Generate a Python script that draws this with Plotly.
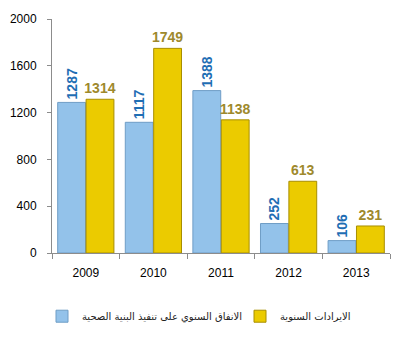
import plotly.graph_objects as go

years = ["2009", "2010", "2011", "2012", "2013"]
spending = [1287, 1117, 1388, 252, 106]
revenue = [1314, 1749, 1138, 613, 231]
spending_name = "الانفاق السنوي على تنفيذ البنية الصحية"
revenue_name = "الايرادات السنوية"
y_ticks = [0, 400, 800, 1200, 1600, 2000]

base_font = "Liberation Sans, Arial, DejaVu Sans, sans-serif"
legend_font = dict(family="DejaVu Sans, Liberation Sans, sans-serif", size=10, color="#222222")

fig = go.Figure()
fig.add_trace(go.Bar(
    x=years, y=spending, name=spending_name, legend="legend",
    marker=dict(color="#93C2EA", line=dict(color="#6F9DC6", width=1)),
    text=[str(v) for v in spending], textposition="outside", textangle=-90,
    textfont=dict(family=base_font, size=14, color="#1F6EB4", weight="bold"),
    constraintext="none", cliponaxis=False,
))
fig.add_trace(go.Bar(
    x=years, y=revenue, name=revenue_name, legend="legend2",
    marker=dict(color="#EBCB00", line=dict(color="#A88E00", width=1)),
    text=[str(v) for v in revenue], textposition="outside", textangle=0,
    textfont=dict(family=base_font, size=14, color="#9E892C", weight="bold"),
    constraintext="none", cliponaxis=False,
))

legend_common = dict(
    orientation="h", xref="container", yref="container",
    y=0.11, xanchor="left", yanchor="top", font=legend_font,
    bgcolor="rgba(0,0,0,0)",
)

fig.update_layout(
    width=416, height=339,
    margin=dict(l=52, r=26, t=19, b=86, autoexpand=False),
    paper_bgcolor="white", plot_bgcolor="white",
    barmode="group", bargap=0.16, bargroupgap=0.02,
    font=dict(family=base_font, size=12, color="#000000"),
    showlegend=True,
    legend=dict(x=42 / 416, **legend_common),
    legend2=dict(x=240 / 416, **legend_common),
)
fig.update_xaxes(
    showline=True, linecolor="#8C8C8C", linewidth=1,
    ticks="outside", ticklen=5, tickcolor="#8C8C8C", tickson="boundaries",
    showgrid=False, tickfont=dict(size=12, color="#000000"),
    ticklabelstandoff=9,
)
fig.update_yaxes(
    range=[0, 2000], tickvals=y_ticks,
    showline=True, linecolor="#8C8C8C", linewidth=1,
    ticks="outside", ticklen=4, tickcolor="#8C8C8C",
    showgrid=False, zeroline=False, tickfont=dict(size=12, color="#000000"),
    ticklabelstandoff=8,
)

fig.write_html("out.html")
